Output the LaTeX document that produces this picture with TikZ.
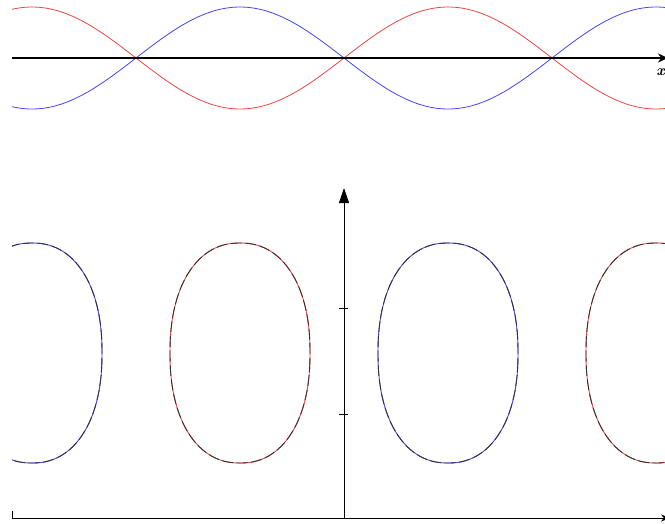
\documentclass[tikz,border=0pt]{standalone}
\usetikzlibrary{arrows.meta}
\definecolor{wred}{RGB}{235,70,70}
\definecolor{wblue}{RGB}{70,70,235}
\tikzset{
  wave/.style={line width=0.8pt},
  topaxis/.style={line width=2.6pt, -{Stealth[length=10pt,width=9pt]}},
  botaxis/.style={line width=0.8pt},
  ovalbase/.style={line width=0.9pt},
  ovaltop/.style={line width=0.9pt, black!80, dash pattern=on 11pt off 3.5pt},
  tickmark/.style={line width=0.8pt},
  xlabel/.style={font=\fontsize{15}{16}\selectfont, inner sep=0pt},
}
\newcommand{\myoval}[2]{%
  \draw[ovalbase,#2] plot[smooth cycle, domain=0:357, samples=120]
    ({#1 + 70*sign(cos(\x))*pow(abs(cos(\x))+0.00001,0.9)},
     {353 + 110*sign(sin(\x))*pow(abs(sin(\x))+0.00001,0.9)});
  \draw[ovaltop] plot[smooth cycle, domain=0:357, samples=120]
    ({#1 + 70*sign(cos(\x))*pow(abs(cos(\x))+0.00001,0.9)},
     {353 + 110*sign(sin(\x))*pow(abs(sin(\x))+0.00001,0.9)});
}
\begin{document}
\begin{tikzpicture}[x=1pt,y=-1pt]
\useasboundingbox (0,0) rectangle (665,523);
% top waves
\draw[wave, wred] plot[domain=12:665, samples=200, smooth] (\x, {58-51*cos((\x-32)*0.865385)});
\draw[wave, wblue] plot[domain=12:665, samples=200, smooth] (\x, {58+51*cos((\x-32)*0.865385)});
\coordinate (tl) at (12,58);
\coordinate (tr) at (668,58);
\draw[topaxis] (tl) -- (tr);
\node[xlabel] (xl) at (661,72) {\textbf{\textit{x}}};
% ovals
\begin{scope}
\clip (12,0) rectangle (665,523);
\myoval{32}{wblue}
\myoval{240}{wred}
\myoval{448}{wblue}
\myoval{656}{wred}
\end{scope}
% bottom axes
\coordinate (o) at (344,518);
\coordinate (vt) at (344,188);
\coordinate (bl) at (12,518);
\coordinate (br) at (670,518);
\coordinate (blt) at (12,511);
\draw[botaxis, -{Triangle[length=15pt,width=10pt]}] (o) -- (vt);
\draw[botaxis, -{Stealth[length=9pt,width=7pt]}] (bl) -- (br);
\draw[tickmark] (blt) -- (bl);
\draw[tickmark] (339,308) -- (348,308);
\draw[tickmark] (339,414) -- (348,414);
\end{tikzpicture}
\end{document}
